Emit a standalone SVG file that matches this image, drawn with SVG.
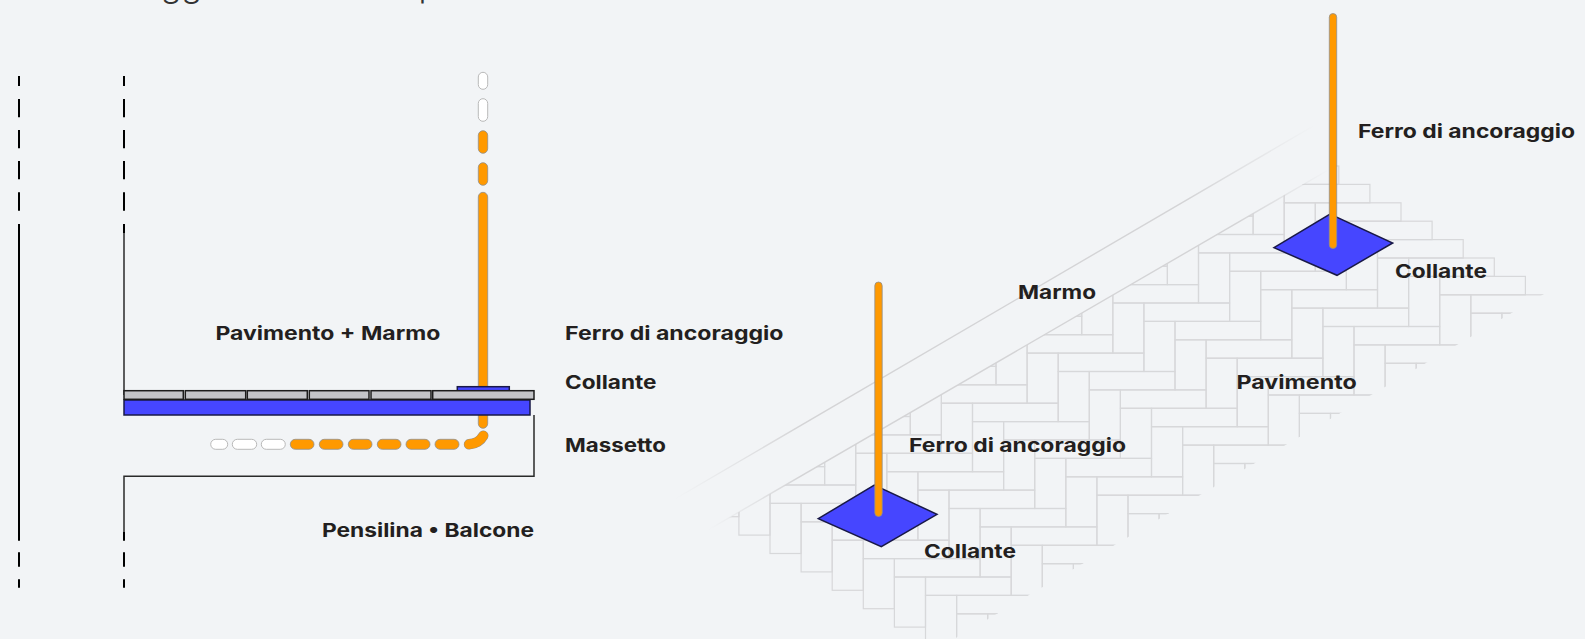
<svg xmlns="http://www.w3.org/2000/svg" xmlns:xlink="http://www.w3.org/1999/xlink" width="1585" height="639" viewBox="0 0 1585 639">
<style>
.bg{fill:#f2f4f6}
.lbl{font-family:"Inter","Liberation Sans",sans-serif;font-weight:700;font-size:19px;fill:#231f20}
.ttl{font-family:"Inter","Liberation Sans",sans-serif;font-weight:300;font-size:34px;fill:#333}
.k{stroke:#000;stroke-width:2;fill:none}
.k2{stroke:#2a2a2a;stroke-width:1.5;fill:none}
.or{fill:#ff9900;stroke:#8f8f8f;stroke-width:.8}
.wh{fill:#fff;stroke:#b9b9b9;stroke-width:1}
.tile{fill:#c3c4c8;stroke:#1c1c1c;stroke-width:1.5}
.blue{fill:#4646ff;stroke:#191947;stroke-width:1.5}
.br{fill:none;stroke:#d7d8da;stroke-width:1.2}
</style>
<defs>
<clipPath id="floorClip"><polygon points="600,592.9 1450,99 1650,232 800,728.8"/></clipPath>
<linearGradient id="m1" gradientUnits="userSpaceOnUse" x1="675" y1="499" x2="1315" y2="125"><stop offset="0" stop-color="#d4d4d6" stop-opacity="0"/><stop offset=".2" stop-color="#d4d4d6"/><stop offset=".8" stop-color="#d4d4d6"/><stop offset="1" stop-color="#d4d4d6" stop-opacity="0"/></linearGradient>
<linearGradient id="m2" gradientUnits="userSpaceOnUse" x1="708" y1="530" x2="1330" y2="169"><stop offset="0" stop-color="#d4d4d6" stop-opacity="0"/><stop offset=".15" stop-color="#d4d4d6"/><stop offset=".85" stop-color="#d4d4d6"/><stop offset="1" stop-color="#d4d4d6" stop-opacity="0"/></linearGradient>
<g id="brick"><rect class="br" width="85.7" height="18.4"/><rect class="br" y="18.4" width="31.1" height="50.1"/></g>
<g id="row">
<use xlink:href="#brick" href="#brick" x="707.8" y="448.2"/>
<use xlink:href="#brick" href="#brick" x="738.9" y="466.6"/>
<use xlink:href="#brick" href="#brick" x="770" y="485"/>
<use xlink:href="#brick" href="#brick" x="801.1" y="503.4"/>
<use xlink:href="#brick" href="#brick" x="832.2" y="521.8"/>
<use xlink:href="#brick" href="#brick" x="863.3" y="540.2"/>
<use xlink:href="#brick" href="#brick" x="894.4" y="558.6"/>
<use xlink:href="#brick" href="#brick" x="925.5" y="577"/>
<use xlink:href="#brick" href="#brick" x="956.6" y="595.4"/>
<use xlink:href="#brick" href="#brick" x="987.7" y="613.8"/>
<use xlink:href="#brick" href="#brick" x="1018.8" y="632.2"/>
</g>
</defs>
<rect class="bg" width="1585" height="639"/>
<g id="title-fragment"><text class="ttl" x="161" y="-3">gg</text><text class="ttl" x="418.5" y="-3">p</text></g>
<g id="floor-herringbone" clip-path="url(#floorClip)">
<use xlink:href="#row" href="#row"/>
<use xlink:href="#row" href="#row" transform="translate(85.7 -50.1)"/>
<use xlink:href="#row" href="#row" transform="translate(171.4 -100.2)"/>
<use xlink:href="#row" href="#row" transform="translate(257.1 -150.3)"/>
<use xlink:href="#row" href="#row" transform="translate(342.8 -200.4)"/>
<use xlink:href="#row" href="#row" transform="translate(428.5 -250.5)"/>
<use xlink:href="#row" href="#row" transform="translate(514.2 -300.6)"/>
</g>
<g id="marble-band" fill="none" stroke-width="1.4">
<line x1="675" y1="499" x2="1315" y2="125" stroke="url(#m1)"/>
<line x1="708" y1="530" x2="1330" y2="169" stroke="url(#m2)"/>
</g>
<g id="section-guides">
<path class="k" d="M19 76V86M19 99V117.3M19 130V148.3M19 161V179.3M19 192.3V210.7M19 224V540.7M19 552.3V566.7M19 579.3V587.7"/>
<path class="k" d="M124 76V86M124 99V117.3M124 130V148.3M124 161V179.3M124 192.3V210.7M124 224V233M124 532V540.7M124 552.3V566.7M124 579.3V587.7"/>
<path class="k2" d="M124 233V395"/>
</g>
<g id="massetto"><path class="k2" d="M534 415V476.3H124V532"/></g>
<g id="rebar-section">
<rect class="wh" x="478.3" y="72.3" width="9.4" height="17" rx="4.7"/>
<rect class="wh" x="478.3" y="98.7" width="9.4" height="22.6" rx="4.7"/>
<rect class="or" x="478.3" y="130.7" width="9.4" height="22.6" rx="4.7"/>
<rect class="or" x="478.3" y="162.7" width="9.4" height="22.6" rx="4.7"/>
<rect class="or" x="478.3" y="192.3" width="9.4" height="203" rx="4.7"/>
<rect class="or" x="478.3" y="405" width="9.4" height="23.3" rx="4.7"/>
<path d="M469 444.3Q479 443.5 483.3 435.7" fill="none" stroke="#8f8f8f" stroke-width="10.4" stroke-linecap="round"/>
<path d="M469 444.3Q479 443.5 483.3 435.7" fill="none" stroke="#ff9900" stroke-width="9.4" stroke-linecap="round"/>
<rect class="or" x="435" y="439.3" width="24" height="10" rx="5"/>
<rect class="or" x="406" y="439.3" width="24" height="10" rx="5"/>
<rect class="or" x="377.3" y="439.3" width="23.7" height="10" rx="5"/>
<rect class="or" x="348.3" y="439.3" width="23.7" height="10" rx="5"/>
<rect class="or" x="319.3" y="439.3" width="23.7" height="10" rx="5"/>
<rect class="or" x="290.3" y="439.3" width="23.7" height="10" rx="5"/>
<rect class="wh" x="261.3" y="439.3" width="24" height="10" rx="5"/>
<rect class="wh" x="232.3" y="439.3" width="24.4" height="10" rx="5"/>
<rect class="wh" x="210.7" y="439.3" width="17" height="10" rx="5"/>
</g>
<g id="collante-section">
<rect class="blue" x="457.3" y="386.7" width="52" height="4.5"/>
<rect class="blue" x="124" y="400" width="406" height="15"/>
</g>
<g id="pavimento-section">
<rect class="tile" x="124" y="390.7" width="59.3" height="8.6"/>
<rect class="tile" x="185.3" y="390.7" width="60.4" height="8.6"/>
<rect class="tile" x="247.3" y="390.7" width="60" height="8.6"/>
<rect class="tile" x="309.3" y="390.7" width="59.7" height="8.6"/>
<rect class="tile" x="371" y="390.7" width="60" height="8.6"/>
<rect class="tile" x="432.7" y="390.7" width="101.3" height="8.6"/>
</g>
<g id="anchor-a">
<polygon class="blue" points="818.3,518.7 874.3,485 937,514.3 881.3,546.7"/>
<rect class="or" x="874.8" y="282" width="7.4" height="234.5" rx="3.7"/>
</g>
<g id="anchor-b">
<polygon class="blue" points="1274,247.7 1330,214 1392.7,243 1337,275.3"/>
<rect class="or" x="1329.3" y="13.5" width="7.4" height="235" rx="3.7"/>
</g>
<g id="labels">
<text class="lbl" x="215.5" y="340" textLength="224.8" lengthAdjust="spacingAndGlyphs">Pavimento + Marmo</text>
<text class="lbl" x="565" y="340" textLength="218.5" lengthAdjust="spacingAndGlyphs">Ferro di ancoraggio</text>
<text class="lbl" x="565" y="389" textLength="91.5" lengthAdjust="spacingAndGlyphs">Collante</text>
<text class="lbl" x="565" y="452.3" textLength="101" lengthAdjust="spacingAndGlyphs">Massetto</text>
<text class="lbl" x="322" y="537.3" textLength="212" lengthAdjust="spacingAndGlyphs">Pensilina • Balcone</text>
<text class="lbl" x="1018" y="299.3" textLength="78" lengthAdjust="spacingAndGlyphs">Marmo</text>
<text class="lbl" x="909" y="452.3" textLength="217" lengthAdjust="spacingAndGlyphs">Ferro di ancoraggio</text>
<text class="lbl" x="924" y="558.3" textLength="92" lengthAdjust="spacingAndGlyphs">Collante</text>
<text class="lbl" x="1358" y="138.3" textLength="217" lengthAdjust="spacingAndGlyphs">Ferro di ancoraggio</text>
<text class="lbl" x="1395" y="278" textLength="92" lengthAdjust="spacingAndGlyphs">Collante</text>
<text class="lbl" x="1236.5" y="389.3" textLength="120.2" lengthAdjust="spacingAndGlyphs">Pavimento</text>
</g>
</svg>
